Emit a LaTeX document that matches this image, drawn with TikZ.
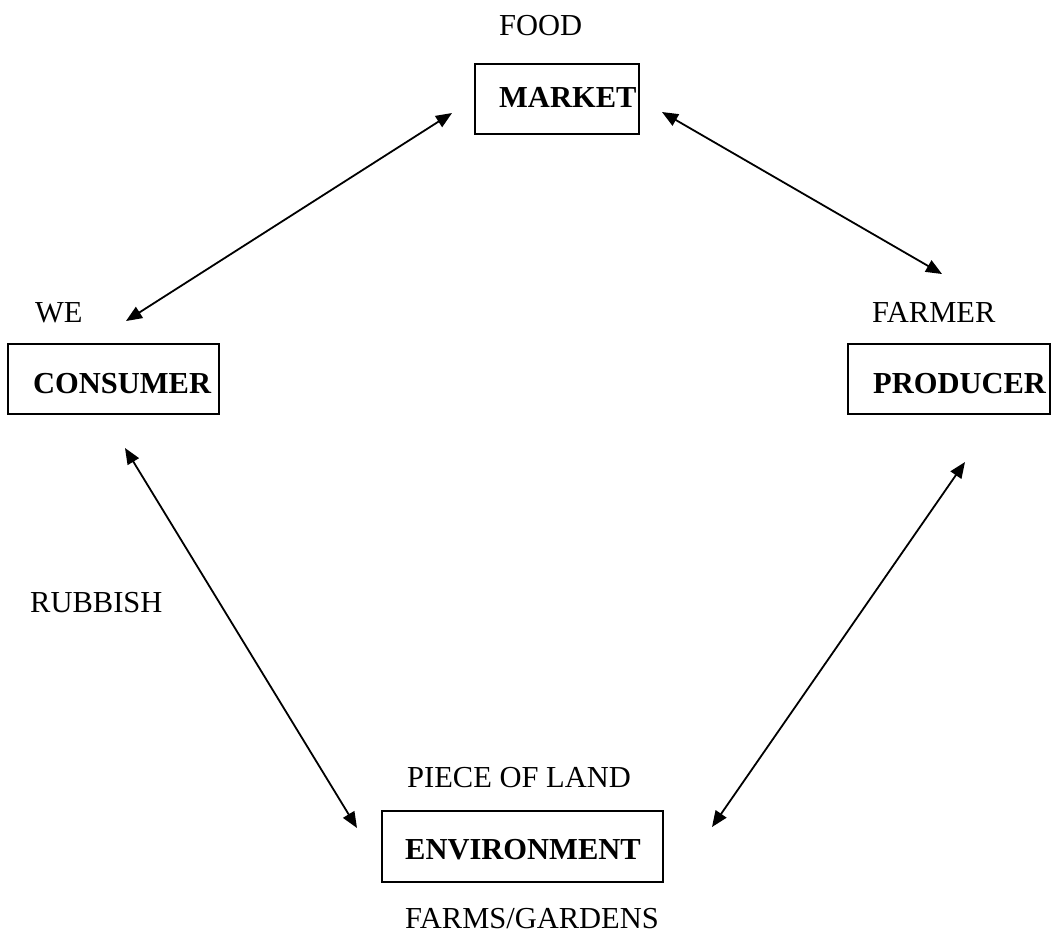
\documentclass[tikz,border=0pt]{standalone}
\usepackage{fontspec}
\setmainfont{Liberation Serif}
\usetikzlibrary{arrows.meta}
\begin{document}
\begin{tikzpicture}[x=1pt,y=-1pt,
  box/.style={draw,line width=1.4pt,inner sep=0pt},
  lbl/.style={anchor=base west,inner sep=0pt,font=\fontsize{30.5}{36}\selectfont},
  head/.style={anchor=base west,inner sep=0pt,font=\fontsize{30.5}{36}\selectfont\bfseries},
  link/.style={line width=1.8pt,{Triangle[length=16pt,width=13pt]}-{Triangle[length=16pt,width=13pt]}}]
\useasboundingbox (0,0) rectangle (1053,938);

% boxes
\node[box,minimum width=164pt,minimum height=70pt] (market) at (557,99) {};
\node[box,minimum width=211pt,minimum height=70pt] (consumer) at (113.5,379) {};
\node[box,minimum width=202pt,minimum height=70pt] (producer) at (949,379) {};
\node[box,minimum width=281pt,minimum height=71pt] (environment) at (522.5,846.5) {};

% box titles
\node[head] (tmarket) at (499,107) {MARKET};
\node[head] (tconsumer) at (33,393) {CONSUMER};
\node[head] (tproducer) at (873,393) {PRODUCER};
\node[head] (tenvironment) at (405,859) {ENVIRONMENT};

% captions
\node[lbl] (food) at (499,35) {FOOD};
\node[lbl] (we) at (35,322) {WE};
\node[lbl] (farmer) at (872,322) {FARMER};
\node[lbl] (rubbish) at (30,612) {RUBBISH};
\node[lbl] (land) at (407,787) {PIECE OF LAND};
\node[lbl] (farms) at (405,928) {FARMS/GARDENS};

% arrow ends
\coordinate (cm1) at (126,321);
\coordinate (cm2) at (452,113);
\coordinate (mp1) at (662,112);
\coordinate (mp2) at (942,274);
\coordinate (ce1) at (125,448);
\coordinate (ce2) at (357,828);
\coordinate (pe1) at (965,462);
\coordinate (pe2) at (712,827);

% two-way links
\draw[link] (cm1) -- (cm2);
\draw[link] (mp1) -- (mp2);
\draw[link] (ce1) -- (ce2);
\draw[link] (pe1) -- (pe2);
\end{tikzpicture}
\end{document}
